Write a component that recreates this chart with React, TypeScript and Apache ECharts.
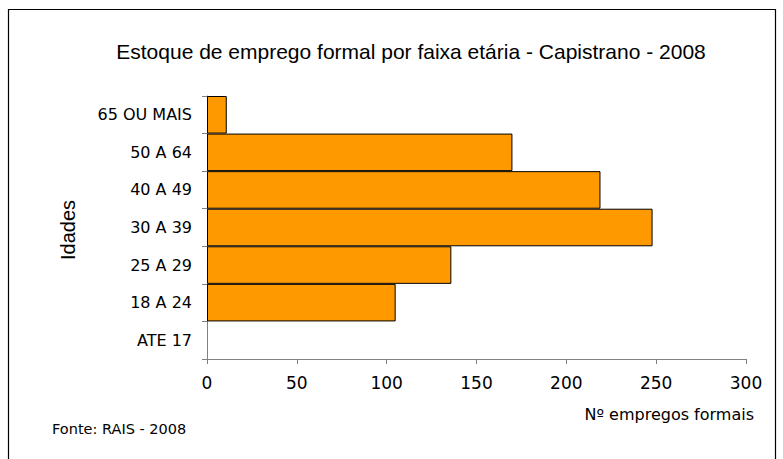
import React, { useEffect, useRef } from "react";
import * as echarts from "echarts";

const categories = ["ATE 17", "18 A 24", "25 A 29", "30 A 39", "40 A 49", "50 A 64", "65 OU MAIS"];
const values = [0, 105, 136, 248, 219, 170, 11];
const xTicks = { min: 0, max: 300, interval: 50 };
const titleText = "Estoque de emprego formal por faixa etária - Capistrano - 2008";
const yName = "Idades";
const xName = "Nº empregos formais";
const sourceText = "Fonte: RAIS - 2008";

export default function App() {
  const ref = useRef<HTMLDivElement>(null);
  useEffect(() => {
    if (!ref.current) return;
    const chart = echarts.init(ref.current, null, { renderer: "svg" });
    const arial = "'Liberation Sans', Arial, sans-serif";
    const dejavu = "'DejaVu Sans', Verdana, sans-serif";
    chart.setOption({
      animation: false,
      textStyle: { fontFamily: dejavu },
      title: {
        text: titleText,
        left: 406,
        top: 36,
        textAlign: "center",
        textStyle: { fontFamily: arial, fontSize: 21, fontWeight: "normal", color: "#000" },
      },
      grid: { left: 207, right: 37, top: 96, bottom: 100, containLabel: false },
      xAxis: {
        type: "value",
        min: xTicks.min,
        max: xTicks.max,
        interval: xTicks.interval,
        splitLine: { show: false },
        axisLine: { show: true, lineStyle: { color: "#808080", width: 1 } },
        axisTick: { show: true, length: 5, lineStyle: { color: "#808080" } },
        axisLabel: { color: "#000", fontSize: 17, fontFamily: dejavu, margin: 15 },
      },
      yAxis: {
        type: "category",
        data: categories,
        axisLine: { show: true, lineStyle: { color: "#808080", width: 1 } },
        axisTick: { show: true, length: 5, lineStyle: { color: "#808080" } },
        axisLabel: { color: "#000", fontSize: 16, fontFamily: dejavu, margin: 15 },
      },
      series: [
        {
          type: "bar",
          data: values.map((v) => ({
            value: v,
            itemStyle: v === 0 ? { borderWidth: 0, opacity: 0 } : undefined,
          })),
          barCategoryGap: "0%",
          itemStyle: { color: "#FF9900", borderColor: "#000", borderWidth: 1 },
        },
      ],
      graphic: [
        {
          type: "rect",
          shape: { x: 8.5, y: 9.5, width: 767, height: 470 },
          style: { fill: "none", stroke: "#000", lineWidth: 1.2 },
          silent: true,
        },
        {
          type: "text",
          x: 68,
          y: 230,
          rotation: Math.PI / 2,
          style: {
            text: yName,
            fontSize: 20,
            fontFamily: arial,
            fill: "#000",
            align: "center",
            verticalAlign: "middle",
          },
        },
        {
          type: "text",
          x: 754,
          y: 414,
          style: {
            text: xName,
            fontSize: 16,
            fontFamily: dejavu,
            fill: "#000",
            align: "right",
            verticalAlign: "middle",
          },
        },
        {
          type: "text",
          x: 52,
          y: 429,
          style: {
            text: sourceText,
            fontSize: 14.5,
            fontFamily: dejavu,
            fill: "#000",
            align: "left",
            verticalAlign: "middle",
          },
        },
      ],
    });
    return () => chart.dispose();
  }, []);
  return (
    <div
      ref={ref}
      style={{ position: "absolute", left: 0, top: 0, width: 783, height: 459, background: "#fff" }}
    />
  );
}
